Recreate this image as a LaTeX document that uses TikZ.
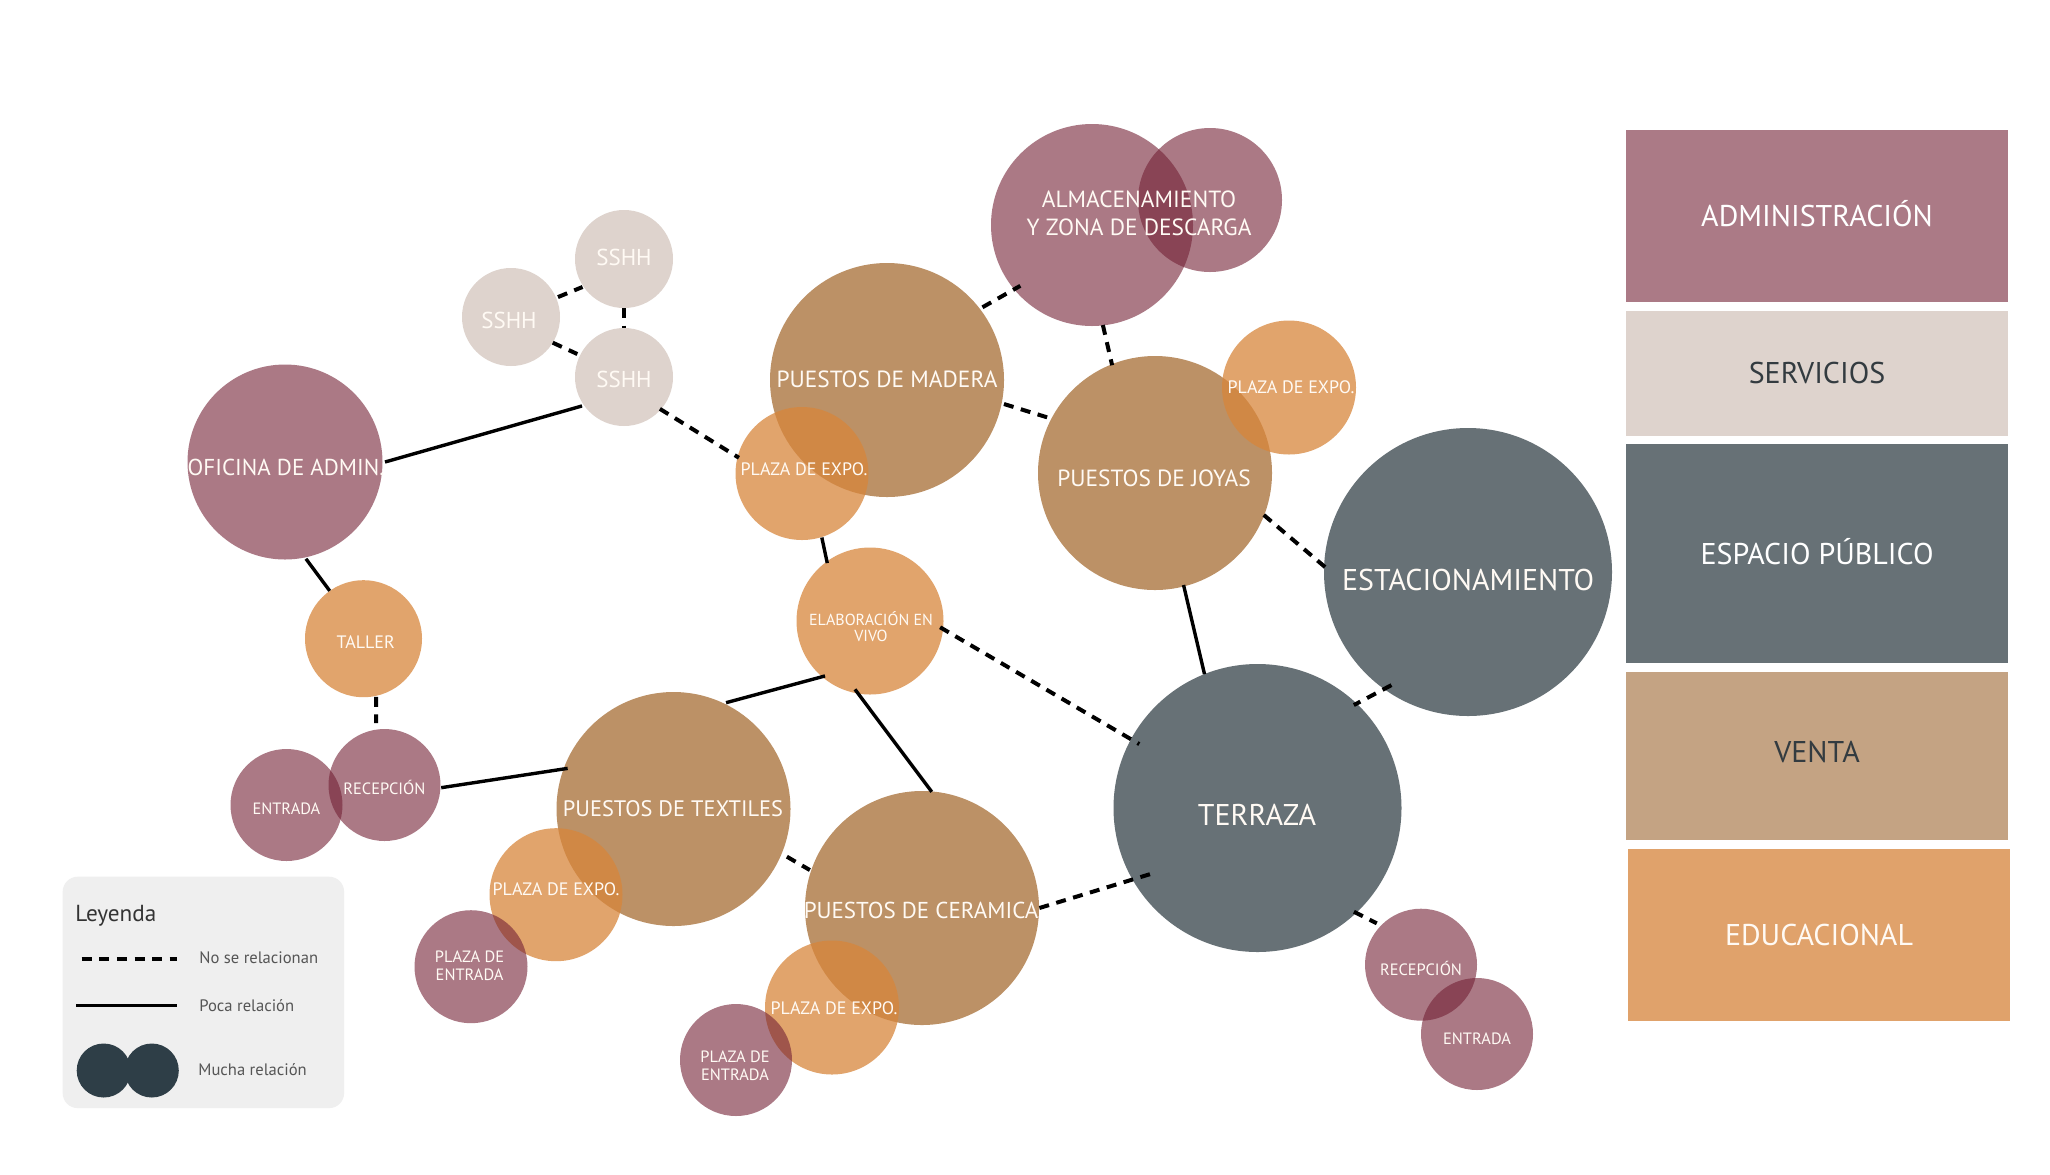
\documentclass[tikz,border=0pt]{standalone}
\usepackage{fontspec}
\setmainfont{PT Sans}
\usetikzlibrary{calc}
\definecolor{adm}{RGB}{115,33,53}
\definecolor{admrect}{RGB}{171,122,134}
\definecolor{edu}{RGB}{216,134,59}
\definecolor{edurect}{RGB}{224,162,107}
\definecolor{ven}{RGB}{188,145,102}
\definecolor{venrect}{RGB}{196,163,131}
\definecolor{pub}{RGB}{103,113,118}
\definecolor{ser}{RGB}{222,211,205}
\definecolor{darkc}{RGB}{46,62,71}
\definecolor{legbg}{RGB}{239,239,239}
\definecolor{txtdark}{RGB}{51,59,64}
\definecolor{legtxt}{RGB}{85,85,85}
\definecolor{cream}{RGB}{255,250,244}
\tikzset{
  bub/.style={circle, inner sep=0pt, outer sep=0pt, draw=none},
  admb/.style={bub, fill=adm, fill opacity=0.6},
  edub/.style={bub, fill=edu, fill opacity=0.75},
  venb/.style={bub, fill=ven},
  pubb/.style={bub, fill=pub},
  serb/.style={bub, fill=ser},
  catbox/.style={rectangle, inner sep=0pt, outer sep=0pt, draw=none},
  lbl/.style={text=cream, anchor=base, inner sep=0pt},
  mlbl/.style={text=cream, anchor=center, inner sep=0pt, align=center},
  tbig/.style={font=\fontsize{11.7}{14}\selectfont},
  thuge/.style={font=\fontsize{15}{18}\selectfont},
  tmid/.style={font=\fontsize{11.5}{14}\selectfont},
  tplaza/.style={font=\fontsize{9}{11}\selectfont},
  tsmall/.style={font=\fontsize{8.2}{8.8}\selectfont},
  trect/.style={font=\fontsize{15}{18}\selectfont, anchor=base, inner sep=0pt},
  tleg/.style={font=\fontsize{8.3}{10}\selectfont, text=legtxt, anchor=base west, inner sep=0pt},
  solidc/.style={line width=1.7pt, draw=black},
  dashc/.style={line width=2pt, draw=black, dash pattern=on 5pt off 3.8pt},
}
\begin{document}
\begin{tikzpicture}[x=0.5pt,y=-0.5pt]
\useasboundingbox (0,0) rectangle (2050,1174);
\fill[white] (0,0) rectangle (2050,1174);

% ---------- opaque circles ----------
\node[venb, minimum size=117pt] (mad) at (887,380) {};
\node[venb, minimum size=117pt] (joy) at (1155,473) {};
\node[venb, minimum size=117pt] (tex) at (673.5,809) {};
\node[venb, minimum size=117pt] (cer) at (922,908) {};
\node[pubb, minimum size=144pt] (est) at (1468,572) {};
\node[pubb, minimum size=144pt] (ter) at (1257.5,808) {};
\node[serb, minimum size=49pt] (s1) at (624,259) {};
\node[serb, minimum size=49pt] (s2) at (511,317) {};
\node[serb, minimum size=49pt] (s3) at (624,377) {};

% ---------- educational (orange) ----------
\node[edub, minimum size=66.5pt] (pm) at (802,473.5) {};
\node[edub, minimum size=73.5pt] (elab) at (870,621) {};
\node[edub, minimum size=67pt] (pj) at (1289,387.5) {};
\node[edub, minimum size=66.5pt] (pt) at (556,894.7) {};
\node[edub, minimum size=67pt] (pc) at (832,1007.5) {};
\node[edub, minimum size=58.5pt] (tal) at (363.5,638.7) {};

% ---------- administration (pink) ----------
\node[admb, minimum size=97.5pt] (ofi) at (285,462) {};
\node[admb, minimum size=101pt] (alm) at (1092,225) {};
\node[admb, minimum size=72pt] (alm2) at (1210,200) {};
\node[admb, minimum size=56.5pt] (peL) at (471,966.7) {};
\node[admb, minimum size=56pt] (peB) at (736,1060) {};
\node[admb, minimum size=56pt] (entL) at (286.5,805) {};
\node[admb, minimum size=56pt] (recL) at (384.5,785) {};
\node[admb, minimum size=56pt] (recR) at (1421,964.7) {};
\node[admb, minimum size=56pt] (entR) at (1477,1034) {};

% ---------- connectors ----------
\draw[solidc] ([shift={(0:50pt)}]ofi.center) -- ([shift={(214.6:25.5pt)}]s3.center);
\draw[dashc] ([shift={(23:25.5pt)}]s2.center) -- ([shift={(214:25pt)}]s1.center);
\draw[dashc] ([shift={(-90:24.5pt)}]s1.center) -- ([shift={(90:24.5pt)}]s3.center);
\draw[dashc] ([shift={(-31.6:24.5pt)}]s2.center) -- ([shift={(153.8:26pt)}]s3.center);
\draw[dashc] ([shift={(-41.6:24pt)}]s3.center) -- ([shift={(166:32.5pt)}]pm.center);
\draw[solidc] ([shift={(-72.8:33.5pt)}]pm.center) -- ([shift={(126.4:36pt)}]elab.center);
\draw[dashc] ([shift={(37.3:60pt)}]mad.center) -- ([shift={(220.3:47pt)}]alm.center);
\draw[dashc] ([shift={(-11.6:59.7pt)}]mad.center) -- ([shift={(152.7:60.7pt)}]joy.center);
\draw[dashc] ([shift={(-83.8:50.3pt)}]alm.center) -- ([shift={(111.7:58pt)}]joy.center);
\draw[dashc] ([shift={(-21.1:58.3pt)}]joy.center) -- ([shift={(179.2:69.7pt)}]est.center);
\draw[solidc] ([shift={(-75.7:57.8pt)}]joy.center) -- ([shift={(111.6:72pt)}]ter.center);
\draw[dashc] ([shift={(235.9:68.3pt)}]est.center) -- ([shift={(46.9:70.5pt)}]ter.center);
\draw[dashc] ([shift={(-5.1:35.2pt)}]elab.center) -- ([shift={(151.6:67.2pt)}]ter.center);
\draw[solidc] ([shift={(230.7:35.5pt)}]elab.center) -- ([shift={(63.7:59.3pt)}]tex.center);
\draw[solidc] ([shift={(-102.4:35pt)}]elab.center) -- ([shift={(85.2:58.3pt)}]cer.center);
\draw[dashc] ([shift={(-22.8:61.5pt)}]tex.center) -- ([shift={(161.3:59.2pt)}]cer.center);
\draw[dashc] ([shift={(0:58.7pt)}]cer.center) -- ([shift={(212:61.5pt)}]ter.center);
\draw[solidc] ([shift={(-77.8:49.5pt)}]ofi.center) -- ([shift={(125.2:29.3pt)}]tal.center);
\draw[dashc] ([shift={(-77.8:29.7pt)}]tal.center) -- ([shift={(97.8:31.2pt)}]recL.center);
\draw[solidc] ([shift={(-2.7:28.4pt)}]recL.center) -- ([shift={(159:56.7pt)}]tex.center);
\draw[dashc] ([shift={(-47.1:70.8pt)}]ter.center) -- ([shift={(136.9:30.3pt)}]recR.center);

% ---------- labels ----------
\node[lbl, tmid] (tofi) at (286,475) {OFICINA DE ADMIN.};
\node[lbl, tmid] (ts1) at (624,265) {SSHH};
\node[lbl, tmid] (ts2) at (509,328.7) {SSHH};
\node[lbl, tmid] (ts3) at (624,387.7) {SSHH};
\node[mlbl, font=\fontsize{11.7}{14}\selectfont] (talm) at (1139,213) {ALMACENAMIENTO\\Y ZONA DE DESCARGA};
\node[lbl, tbig] (tmad) at (887,387.2) {PUESTOS DE MADERA};
\node[lbl, tbig] (tjoy) at (1154,486.2) {PUESTOS DE JOYAS};
\node[lbl, font=\fontsize{11.2}{14}\selectfont] (ttex) at (673,816) {PUESTOS DE TEXTILES};
\node[lbl, font=\fontsize{11.5}{14}\selectfont] (tcer) at (921,918) {PUESTOS DE CERAMICA};
\node[lbl, thuge] (test) at (1468,590.5) {ESTACIONAMIENTO};
\node[lbl, thuge] (tter) at (1257,825.5) {TERRAZA};
\node[lbl, tplaza] (tpm) at (804,475.3) {PLAZA DE EXPO.};
\node[lbl, tplaza] (tpj) at (1291,393.3) {PLAZA DE EXPO.};
\node[lbl, tplaza] (tpt) at (556,895.3) {PLAZA DE EXPO.};
\node[lbl, tplaza] (tpc) at (834,1014.3) {PLAZA DE EXPO.};
\node[lbl, tplaza] (ttal) at (365.7,648.8) {TALLER};
\node[mlbl, font=\fontsize{8}{8.35}\selectfont] (telab) at (871,626.7) {ELABORACIÓN EN\\VIVO};
\node[mlbl, font=\fontsize{8.2}{8.8}\selectfont] (tpeL) at (469.6,965.5) {PLAZA DE\\ENTRADA};
\node[mlbl, font=\fontsize{8.2}{8.8}\selectfont] (tpeB) at (735,1065.5) {PLAZA DE\\ENTRADA};
\node[lbl, tsmall] (tentL) at (286.4,814.7) {ENTRADA};
\node[lbl, tsmall] (trecL) at (384.4,794.7) {RECEPCIÓN};
\node[lbl, tsmall] (trecR) at (1421,975.2) {RECEPCIÓN};
\node[lbl, tsmall] (tentR) at (1477,1044) {ENTRADA};

% ---------- category boxes ----------
\node[catbox, fill=admrect, minimum width=191pt, minimum height=86pt] (badm) at (1817,216) {};
\node[catbox, fill=ser, minimum width=191pt, minimum height=62.5pt] (bser) at (1817,373) {};
\node[catbox, fill=pub, minimum width=191pt, minimum height=109.5pt] (bpub) at (1817,553.75) {};
\node[catbox, fill=venrect, minimum width=191pt, minimum height=84pt] (bven) at (1817,756) {};
\node[catbox, fill=edurect, minimum width=191pt, minimum height=86.25pt] (bedu) at (1819,934.75) {};
\node[trect, text=white] (tbadm) at (1817,226.5) {ADMINISTRACIÓN};
\node[trect, text=txtdark] (tbser) at (1817,383.5) {SERVICIOS};
\node[trect, text=white] (tbpub) at (1817,564) {ESPACIO PÚBLICO};
\node[trect, text=txtdark] (tbven) at (1817,762) {VENTA};
\node[trect, text=cream] (tbedu) at (1819,945.5) {EDUCACIONAL};

% ---------- legend ----------
\node[rectangle, rounded corners=7.5pt, fill=legbg, minimum width=140.7pt, minimum height=115.7pt, inner sep=0pt] (leg) at (203.4,992.4) {};
\node[font=\fontsize{11.6}{13}\selectfont, text=black!80, anchor=base west, inner sep=0pt] (tleyenda) at (75,921.6) {Leyenda};
\coordinate (d1) at (81.7,959);
\coordinate (d2) at (176.7,959);
\draw[dashc] (d1) -- (d2);
\coordinate (l1) at (76,1005.7);
\coordinate (l2) at (176.7,1005.7);
\draw[solidc] (l1) -- (l2);
\node[bub, fill=darkc, minimum size=27pt] (lc1) at (103.7,1070.5) {};
\node[bub, fill=darkc, minimum size=27pt] (lc2) at (151.8,1070.5) {};
\node[tleg] (tl1) at (199,963.8) {No se relacionan};
\node[tleg] (tl2) at (199,1011.5) {Poca relación};
\node[tleg] (tl3) at (198,1075.5) {Mucha relación};
\end{tikzpicture}
\end{document}
